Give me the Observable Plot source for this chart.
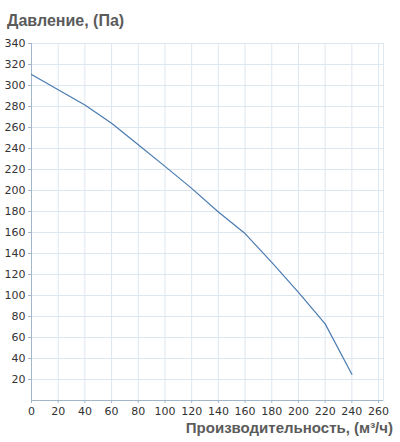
<!DOCTYPE html>
<html><head><meta charset="utf-8">
<script src="https://cdn.jsdelivr.net/npm/d3@7"></script>
<script src="https://cdn.jsdelivr.net/npm/@observablehq/plot@0.6"></script>
<style>
body{margin:0;background:#fff;width:400px;height:442px;overflow:hidden;font-family:"DejaVu Sans",sans-serif}
#title{height:36px;box-sizing:border-box;padding:12px 0 0 7px;font:bold 16px "Liberation Sans",Arial,sans-serif;color:#5b5b5b;line-height:18px}
#cap{height:24px;text-align:right;padding-right:7px;font:bold 15px "Liberation Sans",Arial,sans-serif;color:#5b5b5b;line-height:20px}
</style></head><body>
<div id="title">Давление, (Па)</div>
<div id="chart"></div>
<div id="cap">Производительность, (м³/ч)</div>
<script>
const flow = [0, 20, 40, 60, 80, 100, 120, 140, 160, 180, 200, 220, 240];
const pressure = [310.5, 296, 281.5, 264, 243.5, 223, 202, 179.5, 159, 131.5, 103, 73, 25];
const xTicks = [0,20,40,60,80,100,120,140,160,180,200,220,240,260];
const yTicks = [20,40,60,80,100,120,140,160,180,200,220,240,260,280,300,320,340];
const data = flow.map((f,i)=>({f, p: pressure[i]}));
const grid = "#dde7f0", axisC = "#a3b7c9";
const chart = Plot.plot({
  width: 400, height: 382,
  marginLeft: 31, marginRight: 17, marginTop: 7, marginBottom: 18,
  style: {fontFamily: "DejaVu Sans, sans-serif", fontSize: "11px", color: "#333", background: "#fff"},
  x: {domain: [0, 263.7], ticks: xTicks, label: null, tickSize: 3, tickPadding: 4, tickFormat: d=>d},
  y: {domain: [0, 340], ticks: yTicks, label: null, tickSize: 3, tickPadding: 3, tickFormat: d=>d},
  marks: [
    Plot.gridX(xTicks, {stroke: grid, strokeOpacity: 1}),
    Plot.gridY(yTicks, {stroke: grid, strokeOpacity: 1}),
    Plot.frame({stroke: grid}),
    Plot.axisX({ticks: xTicks, tickSize: 3, stroke: axisC, fill: "#333", tickPadding: 4, tickFormat: d=>d, label: null}),
    Plot.axisY({ticks: yTicks, tickSize: 3, stroke: axisC, fill: "#333", tickPadding: 3, tickFormat: d=>d, label: null}),
    Plot.ruleX([0], {stroke: axisC}),
    Plot.ruleY([0], {stroke: axisC}),
    Plot.line(data, {x: "f", y: "p", stroke: "#4a7bb0", strokeWidth: 1.2, curve: "linear"})
  ]
});
document.getElementById("chart").appendChild(chart);
</script>
</body></html>
